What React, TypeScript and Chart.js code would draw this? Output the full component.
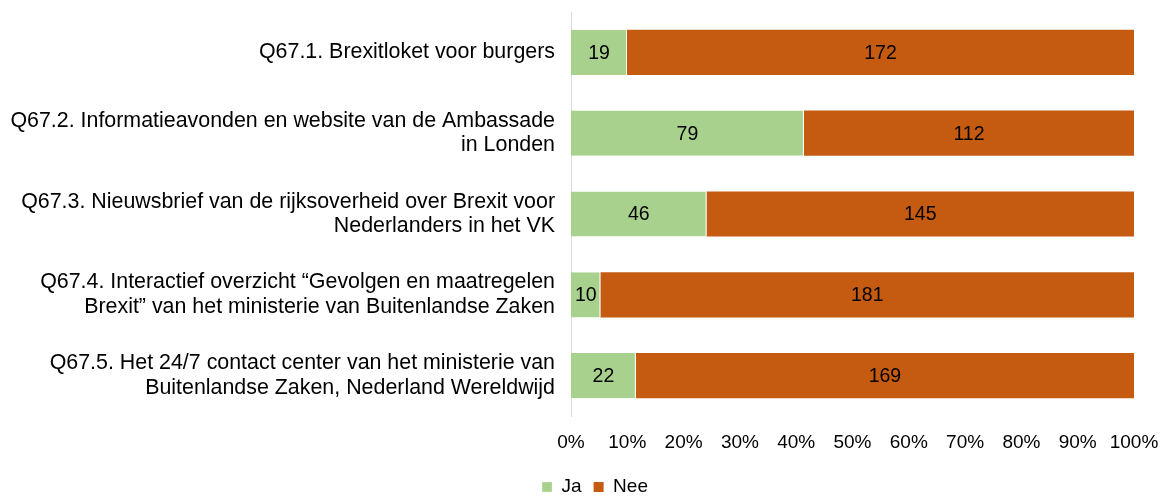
import React, { useEffect, useRef } from "react";
import { Chart, registerables } from "chart.js";

Chart.register(...registerables);

const categories: (string | string[])[] = [
  "Q67.1. Brexitloket voor burgers",
  ["Q67.2. Informatieavonden en website van de Ambassade", "in Londen"],
  ["Q67.3. Nieuwsbrief van de rijksoverheid over Brexit voor", "Nederlanders in het VK"],
  ["Q67.4. Interactief overzicht \u201cGevolgen en maatregelen", "Brexit\u201d van het ministerie van Buitenlandse Zaken"],
  ["Q67.5. Het 24/7 contact center van het ministerie van", "Buitenlandse Zaken, Nederland Wereldwijd"],
];
const jaValues = [19, 79, 46, 10, 22];
const neeValues = [172, 112, 145, 181, 169];
const seriesNames = ["Ja", "Nee"];
const seriesColors = ["#A9D18E", "#C55A11"];

const FONT = "'Liberation Sans', Arial, sans-serif";

export default function App() {
  const ref = useRef<HTMLCanvasElement | null>(null);
  useEffect(() => {
    document.body.style.margin = "0";
    const totals = jaValues.map((v, i) => v + neeValues[i]);
    const raw = [jaValues, neeValues];
    const labelPlugin = {
      id: "countLabels",
      afterLayout(chart: any) {
        if (chart.legend) {
          chart.legend.left = 58;
          chart.legend.right = 1132;
        }
      },
      afterDatasetsDraw(chart: any) {
        const ctx = chart.ctx;
        ctx.save();
        ctx.font = `19.5px ${FONT}`;
        ctx.fillStyle = "#000";
        ctx.textAlign = "center";
        ctx.textBaseline = "middle";
        chart.data.datasets.forEach((ds: any, di: number) => {
          const meta = chart.getDatasetMeta(di);
          meta.data.forEach((el: any, i: number) => {
            const p = el.getCenterPoint();
            ctx.fillText(String(raw[di][i]), p.x, p.y + 1);
          });
        });
        ctx.restore();
      },
    };
    const chart = new Chart(ref.current!, {
      type: "bar",
      data: {
        labels: categories,
        datasets: [
          {
            label: seriesNames[0],
            data: jaValues.map((v, i) => (v / totals[i]) * 100),
            backgroundColor: seriesColors[0],
            borderColor: "#ffffff",
            borderWidth: { left: 0, right: 1, top: 0, bottom: 0 },
            borderSkipped: false,
          },
          {
            label: seriesNames[1],
            data: neeValues.map((v, i) => (v / totals[i]) * 100),
            backgroundColor: seriesColors[1],
            borderWidth: 0,
          },
        ],
      },
      options: {
        indexAxis: "y",
        animation: false,
        responsive: false,
        maintainAspectRatio: false,
        datasets: { bar: { categoryPercentage: 1, barPercentage: 0.56 } },
        layout: { padding: { top: 12, right: 34, bottom: -8.5, left: 0 } },
        scales: {
          x: {
            stacked: true,
            min: 0,
            max: 100,
            ticks: {
              stepSize: 10,
              callback: (v: any) => v + "%",
              color: "#000",
              font: { family: FONT, size: 19 },
              padding: 15,
              maxRotation: 0,
            },
            grid: { display: false, drawTicks: false },
            border: { display: false },
            afterFit: (axis: any) => {
              axis.paddingLeft = 0;
              axis.paddingRight = 0;
              axis.height = 49.5;
            },
          },
          y: {
            stacked: true,
            ticks: {
              color: "#000",
              font: { family: FONT, size: 21.4, lineHeight: 1.15 },
              padding: 16,
            },
            grid: { display: false, drawTicks: false },
            border: { display: true, color: "#D9D9D9", width: 1 },
            afterFit: (axis: any) => {
              axis.width = 571;
              axis.paddingTop = 0;
              axis.paddingBottom = 0;
            },
          },
        },
        plugins: {
          legend: {
            position: "bottom",
            labels: {
              boxWidth: 10,
              boxHeight: 10,
              color: "#000",
              font: { family: FONT, size: 19 },
              padding: 12,
            },
          },
          tooltip: { enabled: false },
        },
      },
      plugins: [labelPlugin],
    });
    return () => chart.destroy();
  }, []);
  return (
    <div style={{ width: 1168, height: 498 }}>
      <canvas ref={ref} width={1168} height={498} style={{ display: "block" }} />
    </div>
  );
}
